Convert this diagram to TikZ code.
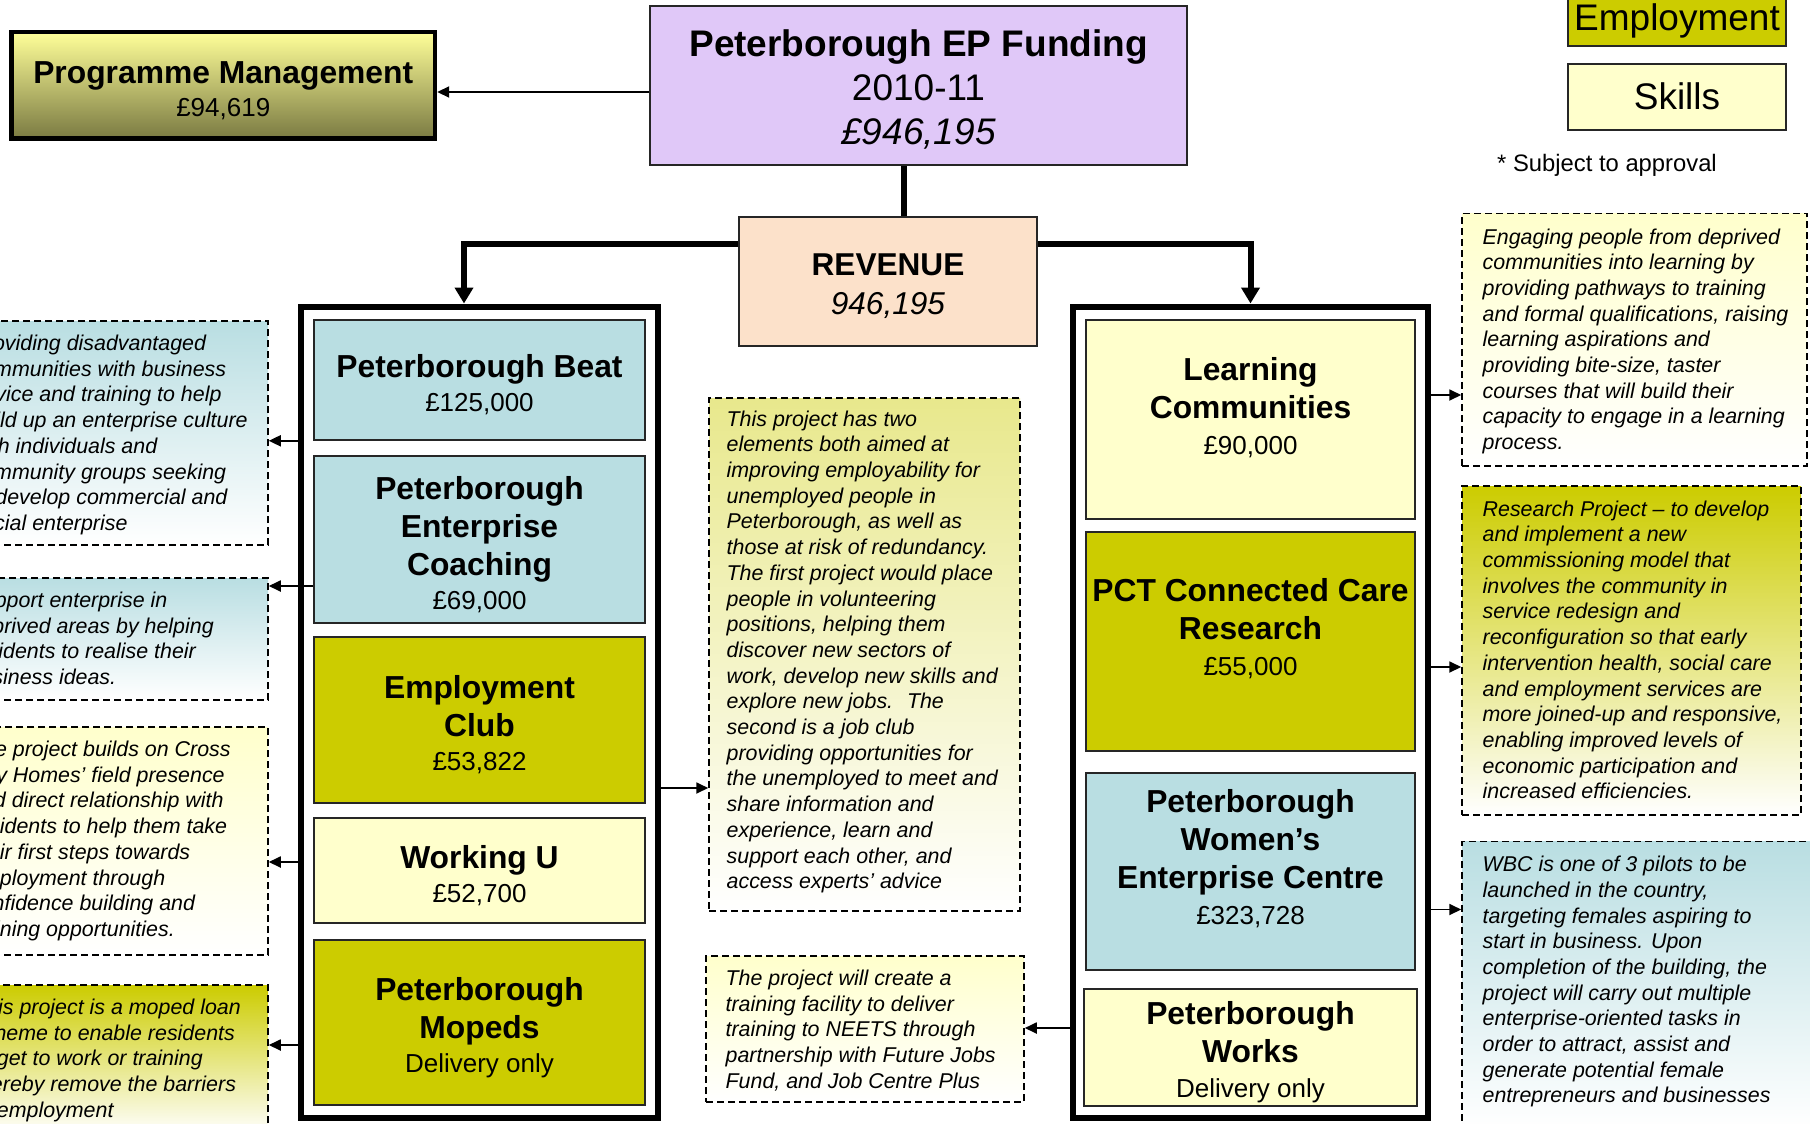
\documentclass[tikz,border=0pt]{standalone}
\usepackage{fontspec}
\setmainfont{Liberation Sans}
\usepackage{tikz}
\usetikzlibrary{arrows.meta}

\definecolor{titlefill}{HTML}{E0C8F8}
\definecolor{revfill}{HTML}{FCE1CA}
\definecolor{empfill}{HTML}{CCCC00}
\definecolor{skillfill}{HTML}{FFFFCC}
\definecolor{entfill}{HTML}{B9DEE2}
\definecolor{pmtop}{HTML}{FFFF99}
\definecolor{pmbottom}{HTML}{7A7A42}

\newcommand{\amt}[1]{{\fontsize{13}{15.6}\selectfont\mdseries #1}}

\tikzset{
	fund/.style={draw=black!85, line width=0.8pt, minimum width=165.5pt, inner sep=0pt, text width=160pt, align=flush center, font=\fontsize{15.9}{19}\selectfont\bfseries, execute at begin node={\rule{0pt}{16.2pt}}},
	fundtext/.style={inner sep=0pt, align=center, font=\fontsize{15.9}{19}\selectfont\bfseries},
	holder/.style={draw, line width=3pt, minimum height=405.75pt, inner sep=0pt},
	legend/.style={draw=black!85, line width=1pt, minimum width=109pt, minimum height=33.25pt, inner sep=0pt, font=\fontsize{18.5}{22}\selectfont},
	descbox/.style={draw, line width=0.75pt, dash pattern=on 3.5pt off 2pt, bottom color=white, inner sep=0pt},
	desctext/.style={anchor=north west, align=left, inner sep=0pt, font=\fontsize{10.7}{12.85}\selectfont\itshape},
	arr/.style={line width=0.9pt, -{Triangle[length=6pt,width=5.5pt]}},
	trunk/.style={line width=3pt},
}

\begin{document}
\begin{tikzpicture}[x=0.5pt, y=-0.5pt]
	\useasboundingbox (0,0) rectangle (1810,1124);
	\fill[white] (0,0) rectangle (1810,1124);

	\node[draw=black!85, line width=1pt, fill=titlefill, minimum width=268.5pt, minimum height=79.5pt, inner sep=0pt, text width=260pt, align=flush center, font=\fontsize{18.5}{22}\selectfont, execute at begin node={\rule{0pt}{17pt}}] (title) at (918.5,85.5) {\textbf{Peterborough EP Funding}\\2010-11\\\textit{£946,195}};
	\node[draw, line width=2.2pt, top color=pmtop, bottom color=pmbottom, minimum width=211.75pt, minimum height=53.25pt, inner sep=0pt, text width=205pt, align=flush center, font=\fontsize{15.9}{17.9}\selectfont\bfseries, execute at begin node={\rule{0pt}{16.2pt}}] (pm) at (223.25,85.25) {Programme Management\\[-1.2pt]\amt{£94,619}};
	\node[draw=black!85, line width=1pt, fill=revfill, minimum width=149pt, minimum height=64.5pt, inner sep=0pt, text width=140pt, align=flush center, font=\fontsize{15.8}{19.6}\selectfont, execute at begin node={\rule{0pt}{15.9pt}}] (rev) at (888,281.5) {\textbf{REVENUE}\\\textit{946,195}};

	\node[legend, fill=empfill, minimum height=25pt] (legemp) at (1677,21) {Employment};
	\node[legend, fill=skillfill] (legskill) at (1677,96.75) {Skills};
	\node[inner sep=0pt, font=\fontsize{11.9}{14}\selectfont] (approval) at (1607,165.5) {* Subject to approval};

	\node[holder, minimum width=178.5pt] (lbox) at (479.5,712.25) {};
	\node[holder, minimum width=177.5pt] (rbox) at (1250.5,712.25) {};

	\node[fund, fill=entfill, minimum height=60pt] (beat) at (479.5,380) {Peterborough Beat\\[-2pt]\amt{£125,000}};
	\node[fund, fill=entfill, minimum height=83.5pt] (coach) at (479.5,539.5) {Peterborough\\Enterprise\\Coaching\\[-2pt]\amt{£69,000}};
	\node[fund, fill=empfill, minimum height=83pt] (club) at (479.5,720) {Employment\\Club\\[-2pt]\amt{£53,822}};
	\node[fund, fill=skillfill, minimum height=52.5pt] (wu) at (479.5,870.5) {Working U\\[-2pt]\amt{£52,700}};
	\node[fund, fill=empfill, minimum height=82.5pt] (mopeds) at (479.5,1022.5) {Peterborough\\Mopeds\\[-2pt]\amt{Delivery only}};

	\node[fund, fill=skillfill, minimum width=164.5pt, minimum height=99.5pt] (lc) at (1250.5,419.5) {};
	\node[fundtext] (lctext) at ([yshift=6pt]lc.center) {Learning\\Communities\\[-1.1pt]\amt{£90,000}};
	\node[fund, fill=empfill, minimum width=164.5pt, minimum height=109.5pt] (pct) at (1250.5,641.5) {};
	\node[fundtext] (pcttext) at ([yshift=6.5pt]pct.center) {PCT Connected Care\\Research\\[-1.1pt]\amt{£55,000}};
	\node[fund, fill=entfill, minimum width=164.5pt, minimum height=98.5pt] (pwec) at (1250.5,871.5) {};
	\node[fundtext] (pwectext) at ([yshift=6.5pt]pwec.center) {Peterborough\\Women’s\\Enterprise Centre\\[-1.1pt]\amt{£323,728}};
	\node[fund, fill=skillfill, minimum width=166.5pt, minimum height=58.5pt] (works) at (1250.5,1047.5) {Peterborough\\Works\\[-1.5pt]\amt{Delivery only}};

	\node[descbox, top color=entfill, minimum width=159.5pt, minimum height=112pt] (dbeat) at (108.5,433) {};
	\node[desctext] (dbeattext) at ([xshift=11.5pt,yshift=-7.2pt]dbeat.north west) {Providing disadvantaged\\communities with business\\advice and training to help\\build up an enterprise culture\\with individuals and\\community groups seeking\\to develop commercial and\\social enterprise};
	\node[descbox, top color=entfill, minimum width=159.5pt, minimum height=61pt] (dcoach) at (108.5,639) {};
	\node[desctext] (dcoachtext) at ([xshift=10pt,yshift=-7.2pt]dcoach.north west) {Support enterprise in\\deprived areas by helping\\residents to realise their\\business ideas.};
	\node[descbox, top color=skillfill, minimum width=159.5pt, minimum height=114pt] (dwu) at (108.5,841) {};
	\node[desctext] (dwutext) at ([xshift=10.75pt,yshift=-7.2pt]dwu.north west) {The project builds on Cross\\Key Homes’ field presence\\and direct relationship with\\residents to help them take\\their first steps towards\\employment through\\confidence building and\\training opportunities.};
	\node[descbox, top color=empfill, minimum width=159.5pt, minimum height=74.5pt] (dmopeds) at (108.5,1059.5) {};
	\node[desctext] (dmopedstext) at ([xshift=12.25pt,yshift=-7.2pt]dmopeds.north west) {This project is a moped loan\\scheme to enable residents\\to get to work or training\\thereby remove the barriers\\to employment};

	\node[descbox, top color=empfill!45!white, minimum width=155.5pt, minimum height=256.5pt] (dclub) at (864.5,654.5) {};
	\node[desctext] (dclubtext) at ([xshift=9pt,yshift=-6.5pt]dclub.north west) {This project has two\\elements both aimed at\\improving employability for\\unemployed people in\\Peterborough, as well as\\those at risk of redundancy.\\The first project would place\\people in volunteering\\positions, helping them\\discover new sectors of\\work, develop new skills and\\explore new jobs.~ The\\second is a job club\\providing opportunities for\\the unemployed to meet and\\share information and\\experience, learn and\\support each other, and\\access experts’ advice};
	\node[descbox, top color=skillfill, minimum width=159pt, minimum height=73pt] (dworks) at (865,1029) {};
	\node[desctext] (dworkstext) at ([xshift=10pt,yshift=-7.2pt]dworks.north west) {The project will create a\\training facility to deliver\\training to NEETS through\\partnership with Future Jobs\\Fund, and Job Centre Plus};

	\node[descbox, top color=skillfill, minimum width=172.5pt, minimum height=126.25pt] (dlc) at (1634.5,339.75) {};
	\node[desctext] (dlctext) at ([xshift=10.5pt,yshift=-7.7pt]dlc.north west) {Engaging people from deprived\\communities into learning by\\providing pathways to training\\and formal qualifications, raising\\learning aspirations and\\providing bite-size, taster\\courses that will build their\\capacity to engage in a learning\\process.};
	\node[descbox, top color=empfill, minimum width=169.5pt, minimum height=164.5pt] (dpct) at (1631.5,650.5) {};
	\node[desctext] (dpcttext) at ([xshift=10.5pt,yshift=-7.5pt]dpct.north west) {Research Project – to develop\\and implement a new\\commissioning model that\\involves the community in\\service redesign and\\reconfiguration so that early\\intervention health, social care\\and employment services are\\more joined-up and responsive,\\enabling improved levels of\\economic participation and\\increased efficiencies.};
	\node[descbox, top color=entfill, minimum width=176.5pt, minimum height=143.25pt] (dpwec) at (1638.5,984.75) {};
	\node[desctext] (dpwectext) at ([xshift=10.5pt,yshift=-7.5pt]dpwec.north west) {WBC is one of 3 pilots to be\\launched in the country,\\targeting females aspiring to\\start in business. Upon\\completion of the building, the\\project will carry out multiple\\enterprise-oriented tasks in\\order to attract, assist and\\generate potential female\\entrepreneurs and businesses};

	\coordinate (apm) at ([yshift=-3.25pt]title.west);
	\draw[arr] (apm) -- (apm -| pm.east);
	\coordinate (atrunk) at ([xshift=-7.25pt]title.south);
	\draw[trunk] (atrunk) -- (atrunk |- rev.north);
	\coordinate (abranch) at ([yshift=19pt]rev.west);
	\draw[trunk, -{Triangle[length=8pt,width=9pt]}] (abranch) -| ([xshift=-7.75pt]lbox.north);
	\draw[trunk, -{Triangle[length=8pt,width=9pt]}] (abranch -| rev.east) -| (rbox.north);

	\draw[arr] (lbox.west |- beat.south) -- (dbeat.east |- beat.south);
	\coordinate (acoach) at ([yshift=-23.25pt]coach.west);
	\draw[arr] (acoach) -- (acoach -| dcoach.east);
	\coordinate (awu) at ([yshift=4.25pt]wu.west);
	\draw[arr] (awu -| lbox.west) -- (awu -| dwu.east);
	\coordinate (amopeds) at ([yshift=-11.25pt]mopeds.west);
	\draw[arr] (amopeds -| lbox.west) -- (amopeds -| dmopeds.east);
	\coordinate (aclub) at ([yshift=-34pt]club.east);
	\draw[arr] (aclub -| lbox.east) -- (aclub -| dclub.west);
	\coordinate (aworks) at ([yshift=9.75pt]works.west);
	\draw[arr] (aworks -| rbox.west) -- (aworks -| dworks.east);
	\coordinate (alc) at ([yshift=12.25pt]lc.east);
	\draw[arr] (alc -| rbox.east) -- (alc -| dlc.west);
	\coordinate (apct) at ([yshift=-12.75pt]pct.east);
	\draw[arr] (apct -| rbox.east) -- (apct -| dpct.west);
	\coordinate (apwec) at ([yshift=-19pt]pwec.east);
	\draw[arr] (apwec -| rbox.east) -- (apwec -| dpwec.west);
\end{tikzpicture}
\end{document}
